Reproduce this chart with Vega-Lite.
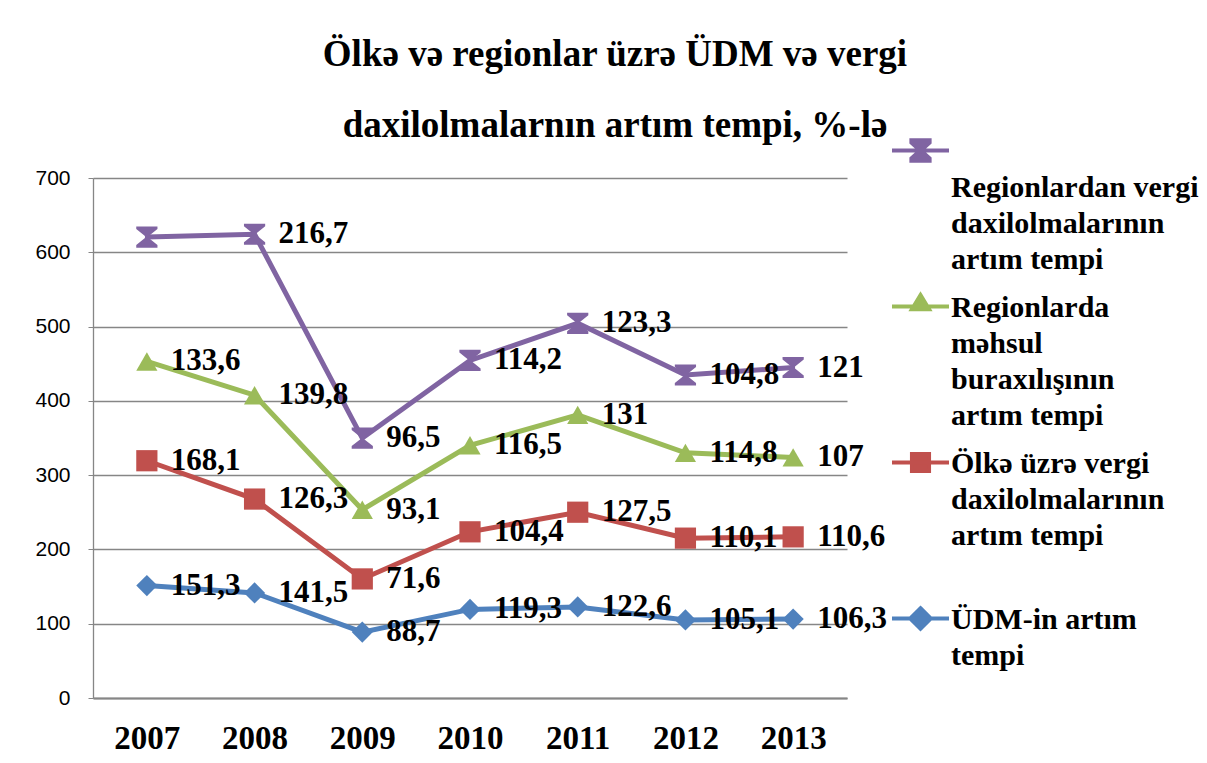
{
  "$schema": "https://vega.github.io/schema/vega-lite/v6.json",
  "autosize": {"type": "none"},
  "width": 754,
  "height": 520,
  "padding": {"left": 93, "top": 178, "right": 360, "bottom": 65},
  "background": "white",
  "config": {
    "font": "Liberation Serif",
    "view": {"stroke": null},
    "locale": {"number": {"decimal": ",", "thousands": " ", "grouping": [3], "currency": ["", ""]}}
  },
  "title": {
    "text": ["Ölkə və regionlar üzrə ÜDM və vergi", "daxilolmalarnın artım tempi, %-lə"],
    "font": "Liberation Serif",
    "fontSize": 37,
    "fontWeight": "bold",
    "color": "black",
    "lineHeight": 71,
    "anchor": "middle",
    "frame": "group",
    "dx": 145,
    "baseline": "bottom",
    "offset": -62
  },
  "data": {
    "values": [
      {"year": "2007", "k": 1, "s": "ÜDM-in artım tempi", "v": 151.3},
      {"year": "2008", "k": 1, "s": "ÜDM-in artım tempi", "v": 141.5},
      {"year": "2009", "k": 1, "s": "ÜDM-in artım tempi", "v": 88.7},
      {"year": "2010", "k": 1, "s": "ÜDM-in artım tempi", "v": 119.3},
      {"year": "2011", "k": 1, "s": "ÜDM-in artım tempi", "v": 122.6},
      {"year": "2012", "k": 1, "s": "ÜDM-in artım tempi", "v": 105.1},
      {"year": "2013", "k": 1, "s": "ÜDM-in artım tempi", "v": 106.3},
      {"year": "2007", "k": 2, "s": "Ölkə üzrə vergi daxilolmalarının artım tempi", "v": 168.1},
      {"year": "2008", "k": 2, "s": "Ölkə üzrə vergi daxilolmalarının artım tempi", "v": 126.3},
      {"year": "2009", "k": 2, "s": "Ölkə üzrə vergi daxilolmalarının artım tempi", "v": 71.6},
      {"year": "2010", "k": 2, "s": "Ölkə üzrə vergi daxilolmalarının artım tempi", "v": 104.4},
      {"year": "2011", "k": 2, "s": "Ölkə üzrə vergi daxilolmalarının artım tempi", "v": 127.5},
      {"year": "2012", "k": 2, "s": "Ölkə üzrə vergi daxilolmalarının artım tempi", "v": 110.1},
      {"year": "2013", "k": 2, "s": "Ölkə üzrə vergi daxilolmalarının artım tempi", "v": 110.6},
      {"year": "2007", "k": 3, "s": "Regionlarda məhsul buraxılışının artım tempi", "v": 133.6},
      {"year": "2008", "k": 3, "s": "Regionlarda məhsul buraxılışının artım tempi", "v": 139.8},
      {"year": "2009", "k": 3, "s": "Regionlarda məhsul buraxılışının artım tempi", "v": 93.1},
      {"year": "2010", "k": 3, "s": "Regionlarda məhsul buraxılışının artım tempi", "v": 116.5},
      {"year": "2011", "k": 3, "s": "Regionlarda məhsul buraxılışının artım tempi", "v": 131},
      {"year": "2012", "k": 3, "s": "Regionlarda məhsul buraxılışının artım tempi", "v": 114.8},
      {"year": "2013", "k": 3, "s": "Regionlarda məhsul buraxılışının artım tempi", "v": 107},
      {"year": "2007", "k": 4, "s": "Regionlardan vergi daxilolmalarının artım tempi", "v": 167.5},
      {"year": "2008", "k": 4, "s": "Regionlardan vergi daxilolmalarının artım tempi", "v": 216.7},
      {"year": "2009", "k": 4, "s": "Regionlardan vergi daxilolmalarının artım tempi", "v": 96.5},
      {"year": "2010", "k": 4, "s": "Regionlardan vergi daxilolmalarının artım tempi", "v": 114.2},
      {"year": "2011", "k": 4, "s": "Regionlardan vergi daxilolmalarının artım tempi", "v": 123.3},
      {"year": "2012", "k": 4, "s": "Regionlardan vergi daxilolmalarının artım tempi", "v": 104.8},
      {"year": "2013", "k": 4, "s": "Regionlardan vergi daxilolmalarının artım tempi", "v": 121}
    ]
  },
  "transform": [
    {"stack": "v", "groupby": ["year"], "sort": [{"field": "k", "order": "ascending"}], "as": ["y0", "y1"]}
  ],
  "encoding": {
    "x": {
      "field": "year", "type": "ordinal",
      "scale": {"type": "point", "padding": 0.5},
      "axis": {
        "title": null, "labelAngle": 0, "ticks": false,
        "labelFont": "Liberation Serif", "labelFontSize": 33, "labelFontWeight": "bold", "labelColor": "black",
        "labelPadding": 24, "domainColor": "#868686", "domainWidth": 2, "grid": false
      }
    },
    "y": {
      "field": "y1", "type": "quantitative",
      "scale": {"domain": [0, 700], "nice": false},
      "axis": {
        "title": null, "values": [0, 100, 200, 300, 400, 500, 600, 700],
        "labelFont": "Liberation Sans", "labelFontSize": 21, "labelColor": "black", "labelPadding": 18,
        "tickSize": 5, "tickColor": "#868686", "domainColor": "#868686", "domainWidth": 1.3,
        "gridColor": "#868686", "gridWidth": 1.3
      }
    }
  },
  "layer": [
    {
      "mark": {"type": "line", "strokeWidth": 5},
      "encoding": {
        "stroke": {
          "field": "s", "type": "nominal",
          "scale": {
            "domain": ["Regionlardan vergi daxilolmalarının artım tempi", "Regionlarda məhsul buraxılışının artım tempi", "Ölkə üzrə vergi daxilolmalarının artım tempi", "ÜDM-in artım tempi"],
            "range": ["#8064A2", "#9BBB59", "#C0504D", "#4F81BD"]
          },
          "legend": {
            "title": null, "orient": "none", "legendX": 797, "legendY": -58, "padding": 0,
            "symbolType": "stroke", "symbolSize": 3249, "symbolStrokeWidth": 4,
            "labelFont": "Liberation Serif", "labelFontSize": 30, "labelFontWeight": "bold", "labelColor": "black",
            "labelLimit": 400, "labelOffset": 0, "rowPadding": 0,
            "labelBaseline": "top",
            "labelExpr": "datum.value == 'ÜDM-in artım tempi' ? ['ÜDM-in artım', 'tempi', '\u00a0', '\u00a0'] : datum.value == 'Ölkə üzrə vergi daxilolmalarının artım tempi' ? ['Ölkə üzrə vergi', 'daxilolmalarının', 'artım tempi', '\u00a0'] : datum.value == 'Regionlarda məhsul buraxılışının artım tempi' ? ['Regionlarda', 'məhsul', 'buraxılışının', 'artım tempi'] : ['\u00a0', 'Regionlardan vergi', 'daxilolmalarının', 'artım tempi']",
            "encode": {
              "labels": {"update": {"lineHeight": {"value": 36.3}, "dy": {"value": -14}}},
              "symbols": {"update": {
                "shape": {"signal": "datum.value == 'ÜDM-in artım tempi' ? 'M-1,0L1,0M0,-0.36L0.36,0L0,0.36L-0.36,0Z' : datum.value == 'Ölkə üzrə vergi daxilolmalarının artım tempi' ? 'M-1,0L1,0M-0.3,-0.3L0.3,-0.3L0.3,0.3L-0.3,0.3Z' : datum.value == 'Regionlarda məhsul buraxılışının artım tempi' ? 'M-1,0L1,0M0,-0.4L0.3,0.1L-0.3,0.1Z' : 'M-1,0L1,0M-0.32,-0.36L0.32,-0.36L0.32,-0.28L0.05,-0.03L0.05,0.03L0.32,0.28L0.32,0.36L-0.32,0.36L-0.32,0.28L-0.05,0.03L-0.05,-0.03L-0.32,-0.28Z'"},
                "fill": {"signal": "datum.value == 'ÜDM-in artım tempi' ? '#4F81BD' : datum.value == 'Ölkə üzrə vergi daxilolmalarının artım tempi' ? '#C0504D' : datum.value == 'Regionlarda məhsul buraxılışının artım tempi' ? '#9BBB59' : '#8064A2'"},
                "fillOpacity": {"value": 1}
              }}
            }
          }
        }
      }
    },
    {
      "mark": {"type": "point", "filled": true, "size": 450, "opacity": 1},
      "encoding": {
        "fill": {
          "field": "s", "type": "nominal", "sort": {"field": "k", "order": "descending"},
          "scale": {"range": ["#8064A2", "#9BBB59", "#C0504D", "#4F81BD"]},
          "legend": null
        },
        "shape": {
          "field": "s", "type": "nominal", "sort": {"field": "k", "order": "descending"},
          "scale": {"range": ["M-1,-1L1,-1L1,-0.75L0.18,-0.1L0.18,0.1L1,0.75L1,1L-1,1L-1,0.75L-0.18,0.1L-0.18,-0.1L-1,-0.75Z", "triangle-up", "square", "diamond"]},
          "legend": null
        }
      }
    },
    {
      "transform": [{"filter": "!(datum.k == 4 && datum.year == '2007')"}],
      "mark": {"type": "text", "align": "left", "baseline": "middle", "dx": 24, "font": "Liberation Serif", "fontSize": 31, "fontWeight": "bold", "color": "black"},
      "encoding": {
        "text": {"field": "v", "type": "quantitative", "format": ".4~r"}
      }
    }
  ]
}
